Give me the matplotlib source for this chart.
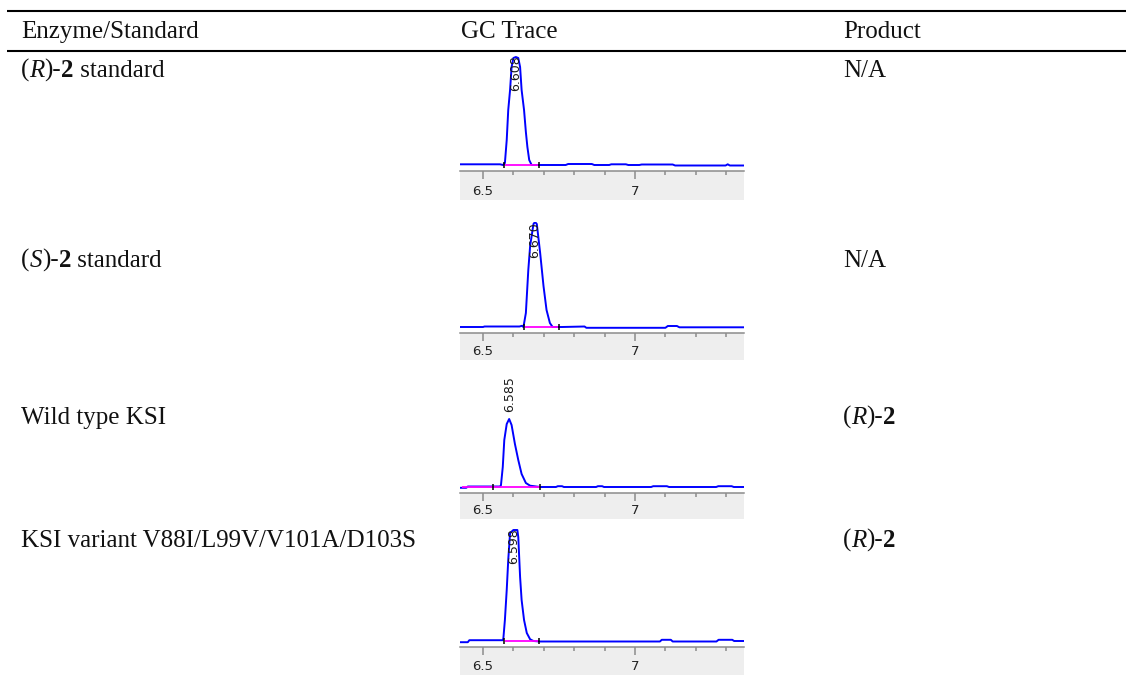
import matplotlib
matplotlib.use("Agg")
import matplotlib.pyplot as plt
from matplotlib.ticker import MultipleLocator, FormatStrFormatter

# table text (n = normal, i = italic, b = bold)
headers = ["Enzyme/Standard", "GC Trace", "Product"]
enzymes = [
    [("(", "n"), ("R", "i"), (")-", "n"), ("2", "b"), (" standard", "n")],
    [("(", "n"), ("S", "i"), (")-", "n"), ("2", "b"), (" standard", "n")],
    [("Wild type KSI", "n")],
    [("KSI variant V88I/L99V/V101A/D103S", "n")],
]
products = [
    [("N/A", "n")],
    [("N/A", "n")],
    [("(", "n"), ("R", "i"), (")-", "n"), ("2", "b")],
    [("(", "n"), ("R", "i"), (")-", "n"), ("2", "b")],
]

# GC traces: retention time (min) vs detector signal
trace_t = [
    [6.424, 6.556, 6.566, 6.572, 6.578, 6.583, 6.589, 6.594, 6.600, 6.608, 6.616, 6.622,
     6.627, 6.635, 6.641, 6.646, 6.652, 6.660, 6.700, 6.772, 6.780, 6.858, 6.866, 6.915,
     6.922, 6.970, 6.978, 7.014, 7.022, 7.124, 7.132, 7.298, 7.305, 7.312, 7.359],
    [6.424, 6.500, 6.505, 6.620, 6.628, 6.633, 6.641, 6.649, 6.655, 6.666, 6.671, 6.677,
     6.688, 6.699, 6.709, 6.720, 6.729, 6.760, 6.834, 6.840, 7.100, 7.108, 7.138, 7.146,
     7.359],
    [6.424, 6.445, 6.450, 6.556, 6.559, 6.565, 6.570, 6.578, 6.586, 6.594, 6.605, 6.616,
     6.627, 6.641, 6.655, 6.688, 6.740, 6.746, 6.760, 6.766, 6.872, 6.878, 6.892, 6.898,
     7.053, 7.060, 7.105, 7.112, 7.267, 7.274, 7.318, 7.325, 7.359],
    [6.424, 6.450, 6.455, 6.565, 6.567, 6.572, 6.578, 6.583, 6.589, 6.600, 6.613, 6.616,
     6.622, 6.627, 6.635, 6.644, 6.655, 6.666, 6.688, 7.082, 7.088, 7.118, 7.124, 7.268,
     7.275, 7.320, 7.326, 7.359],
]
trace_h = [
    [0.7, 0.7, 0, 2, 25, 55, 75, 98, 107, 108, 107, 98, 75, 55, 33, 18, 5, 0, 0, 0, 1,
     1, 0, 0, 0.7, 0.7, 0, 0, 0.5, 0.5, -0.5, -0.5, 0.7, -0.5, -0.5],
    [0, 0, 0.5, 0.5, 1.2, 0, 14, 57, 81, 103, 105, 103, 74, 41, 17, 4, 0, 0, 0.5, -0.8,
     -0.8, 1, 1, -0.3, -0.3],
    [-0.8, -0.8, 0.5, 0.5, 1.7, 20, 47, 63, 68, 62, 43, 27, 13, 4, 1.3, 0, 0, 0.8, 0.8, 0,
     0, 0.8, 0.8, 0, 0, 0.8, 0.8, 0, 0, 0.8, 0.8, 0, 0],
    [-1.2, -1.2, 0.8, 0.8, 2.7, 21, 51, 81, 108, 111, 111, 104, 64, 41, 21, 8, 1.7, 0,
     -0.5, -0.5, 1.2, 1.2, -0.5, -0.5, 1.2, 1.2, 0, 0],
]
peak_rt = [6.608, 6.671, 6.586, 6.600]
peak_labels = ["6.608", "6.670", "6.585", "6.598"]
integ_start = [6.572, 6.638, 6.430, 6.572]
integ_end = [6.680, 6.748, 6.688, 6.681]
integ_marks = [[6.570, 6.684], [6.636, 6.750], [6.534, 6.688], [6.568, 6.684]]

# layout in pixels
W, H = 1126, 675
col_x = [21, 461, 843]
header_y = 38
row_y = [77, 267, 424, 547]
# (top of trace, baseline, bottom of time strip)
panels = [(55, 165, 200), (222, 327, 360), (372, 487, 519), (528, 641, 675)]
trace_left, trace_width = 460, 284
t_min, t_max = 6.4243, 7.3586


def box(left, top, width, height):
    return [left / W, 1 - (top + height) / H, width / W, height / H]


fig = plt.figure(figsize=(W / 100, H / 100), dpi=100)
page = fig.add_axes([0, 0, 1, 1])
page.set_xlim(0, W)
page.set_ylim(H, 0)
page.axis("off")
page.hlines([11, 51], 7, W, color="black", lw=1.5)

renderer = fig.canvas.get_renderer()
styles = {"n": {}, "i": {"style": "italic"}, "b": {"weight": "bold"}}


def rich_text(x, y, parts):
    for s, kind in parts:
        t = page.text(x, y, s, family="Liberation Serif", fontsize=18,
                      va="baseline", ha="left", color="#111111", **styles[kind])
        x += t.get_window_extent(renderer).width


for x, h in zip(col_x, headers):
    rich_text(x, header_y, [(h, "n")])
for y, enz, prod in zip(row_y, enzymes, products):
    rich_text(col_x[0], y, enz)
    rich_text(col_x[2], y, prod)

for i, (top, base, bottom) in enumerate(panels):
    gray = base + 6
    ax = fig.add_axes(box(trace_left, top, trace_width, gray - top))
    ax.set_xlim(t_min, t_max)
    ax.set_ylim(-(gray - base), base - top)
    ax.axis("off")
    ax.plot(trace_t[i], trace_h[i], color="#0000ff", lw=1.4)
    ax.hlines(0, integ_start[i], integ_end[i], color="#ff00ff", lw=1.3, zorder=3)
    ax.plot(integ_marks[i], [0, 0], ls="none", marker="|", ms=5, mew=1.1,
            color="black", zorder=4)
    label_y = min(max(trace_h[i]) + 43, base - top)
    ax.text(peak_rt[i], label_y, peak_labels[i], rotation=90, ha="center", va="top",
            fontsize=9, family="DejaVu Sans", color="#1a1a1a")

    sx = fig.add_axes(box(trace_left, gray, trace_width, bottom - gray))
    sx.set_xlim(t_min, t_max)
    sx.set_facecolor("#eeeeee")
    for s in ["left", "right", "bottom"]:
        sx.spines[s].set_visible(False)
    sx.spines["top"].set_color("#8c8c8c")
    sx.spines["top"].set_linewidth(1.1)
    sx.set_yticks([])
    sx.xaxis.set_major_locator(MultipleLocator(0.5))
    sx.xaxis.set_minor_locator(MultipleLocator(0.1))
    sx.xaxis.set_major_formatter(FormatStrFormatter("%g"))
    sx.tick_params(axis="x", which="both", top=True, bottom=False, direction="in",
                   color="#8c8c8c", width=1.1, labelcolor="#222222", labelbottom=True,
                   labelsize=9.5, pad=-11)
    sx.tick_params(axis="x", which="major", length=6)
    sx.tick_params(axis="x", which="minor", length=3)

fig.savefig("out.png", dpi=100)
